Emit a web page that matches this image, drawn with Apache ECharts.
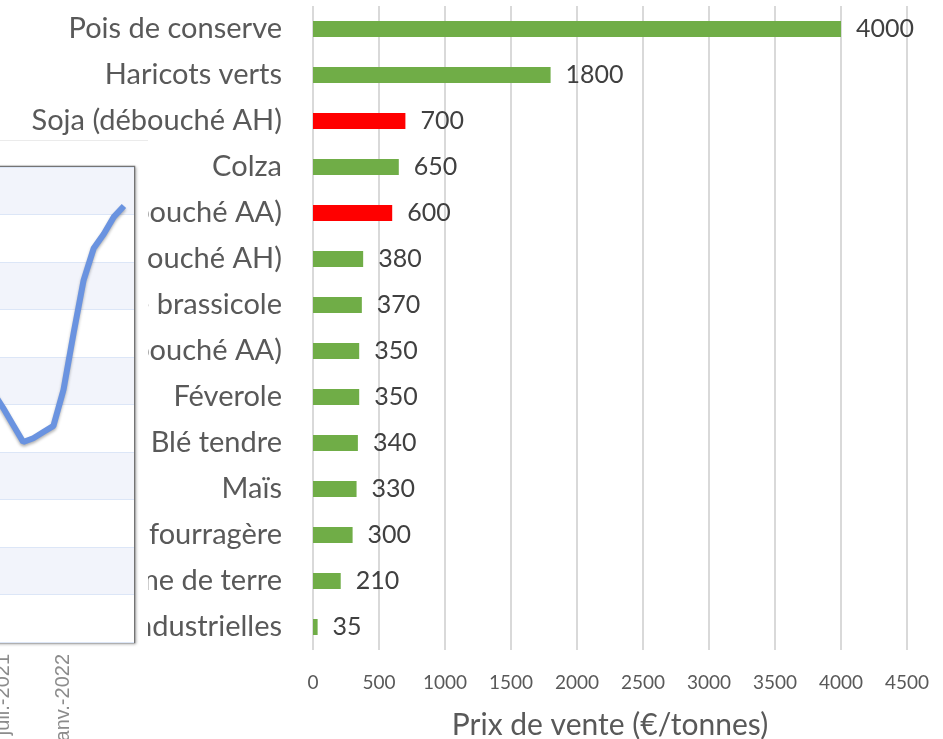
<!DOCTYPE html>
<html>
<head>
<meta charset="utf-8">
<script src="https://cdn.jsdelivr.net/npm/echarts/dist/echarts.min.js"></script>
<style>
  html, body { margin: 0; padding: 0; background: #fff; }
  #chart { width: 943px; height: 739px; }
</style>
</head>
<body>
<div id="chart"></div>
<script>
// cultures et prix de vente (€/t)
const categories = [
  'Pois de conserve',
  'Haricots verts',
  'Soja (débouché AH)',
  'Colza',
  'Soja (débouché AA)',
  'Pois (débouché AH)',
  'Orge brassicole',
  'Pois (débouché AA)',
  'Féverole',
  'Blé tendre',
  'Maïs',
  'Orge fourragère',
  'Pomme de terre',
  'Betteraves industrielles'
]
const prices = [4000, 1800, 700, 650, 600, 380, 370, 350, 350, 340, 330, 300, 210, 35]
const sojaRows = ['Soja (débouché AH)', 'Soja (débouché AA)']
const xTicks = [0, 500, 1000, 1500, 2000, 2500, 3000, 3500, 4000, 4500]

// encart (courbe recouvrant la gauche de l'image)
const months = ['juin-2021', 'juil.-2021', 'août-2021', 'sept.-2021', 'oct.-2021', 'nov.-2021', 'déc.-2021',
  'janv.-2022', 'févr.-2022', 'mars-2022', 'avr.-2022', 'mai-2022', 'juin-2022', 'juil.-2022', 'août-2022']
const insetValues = [526, 493, 457, 421, 429, 442, 455, 531, 650, 762, 829, 859, 895, 918, '-']
const insetLabels = ['juil.-2021', 'janv.-2022']

const textColor = '#595959'
const font = 'Lato'

const chart = echarts.init(document.getElementById('chart'))
chart.setOption({
  animation: false,
  textStyle: { fontFamily: font },
  grid: [
    { left: 313, right: 36, top: 6, bottom: 89, outerBoundsMode: 'none', containLabel: false },
    {
      left: -7, width: 141, top: 167, bottom: 97,
      outerBoundsMode: 'none', containLabel: false,
      show: true, z: 60,
      backgroundColor: '#fff',
      borderColor: '#747474', borderWidth: 2.5,
      shadowColor: 'rgba(0,0,0,0.25)', shadowBlur: 3, shadowOffsetX: 1, shadowOffsetY: 1
    }
  ],
  xAxis: [
    {
      gridIndex: 0,
      type: 'value',
      min: xTicks[0],
      max: xTicks[xTicks.length - 1],
      interval: 500,
      axisLine: { show: false },
      axisTick: { show: false },
      splitLine: { lineStyle: { color: '#d9d9d9', width: 2 } },
      axisLabel: { color: textColor, fontSize: 19, margin: 23, fontFamily: font, formatter: v => String(v) },
      name: 'Prix de vente (€/tonnes)',
      nameLocation: 'middle',
      nameGap: 60,
      nameTextStyle: { color: textColor, fontSize: 30, fontFamily: font }
    },
    {
      gridIndex: 1,
      type: 'category',
      data: months,
      boundaryGap: false,
      z: 61,
      axisLine: { show: false },
      axisTick: { show: false },
      axisLabel: {
        rotate: 90,
        color: '#8c8c8c',
        fontSize: 20,
        margin: 12,
        fontFamily: 'Liberation Sans',
        interval: (i, v) => insetLabels.includes(v)
      }
    }
  ],
  yAxis: [
    {
      gridIndex: 0,
      type: 'category',
      data: categories,
      inverse: true,
      axisLine: { show: false },
      axisTick: { show: false },
      axisLabel: { color: textColor, fontSize: 29, margin: 31, fontFamily: font }
    },
    {
      gridIndex: 1,
      type: 'value',
      min: 0,
      max: 1000,
      interval: 100,
      z: 61,
      axisLine: { show: false },
      axisTick: { show: false },
      axisLabel: { show: false },
      splitLine: { lineStyle: { color: '#dce6f7', width: 1 } },
      splitArea: { show: true, areaStyle: { color: ['#ffffff', '#f2f4fb'] } }
    }
  ],
  graphic: [
    {
      type: 'rect',
      z: 50,
      shape: { x: 0, y: 140, width: 148, height: 600 },
      style: { fill: '#fff' }
    },
    {
      type: 'line',
      z: 51,
      shape: { x1: 0, y1: 140.5, x2: 148, y2: 140.5 },
      style: { stroke: '#ebebeb', lineWidth: 1 }
    }
  ],
  series: [
    {
      type: 'bar',
      xAxisIndex: 0,
      yAxisIndex: 0,
      barWidth: 16,
      data: prices.map((v, i) => ({
        value: v,
        itemStyle: { color: sojaRows.includes(categories[i]) ? '#ff0000' : '#70ad47' }
      })),
      label: {
        show: true,
        position: 'right',
        distance: 15,
        color: '#404040',
        fontSize: 25,
        fontFamily: font
      }
    },
    {
      type: 'line',
      xAxisIndex: 1,
      yAxisIndex: 1,
      z: 62,
      data: insetValues,
      showSymbol: false,
      lineStyle: {
        color: '#6a93e0',
        width: 6,
        shadowColor: 'rgba(0,0,0,0.3)',
        shadowBlur: 3,
        shadowOffsetY: 2
      }
    }
  ]
})
</script>
</body>
</html>
